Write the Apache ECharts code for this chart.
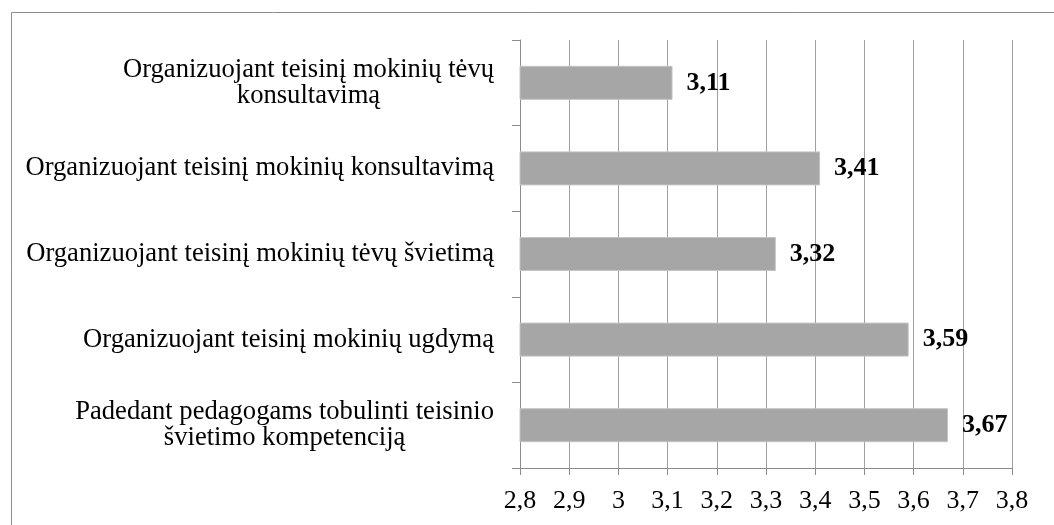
<!DOCTYPE html>
<html>
<head>
<meta charset="utf-8">
<script src="https://cdn.jsdelivr.net/npm/echarts@6/dist/echarts.min.js"></script>
<style>
  html, body { margin: 0; padding: 0; background: #fff; }
  #main { width: 1054px; height: 525px; }
</style>
</head>
<body>
<div id="main"></div>
<script>
// categories top to bottom
const categories = [
  "Organizuojant teisinį mokinių tėvų\nkonsultavimą",
  "Organizuojant teisinį mokinių konsultavimą",
  "Organizuojant teisinį mokinių tėvų švietimą",
  "Organizuojant teisinį mokinių ugdymą",
  "Padedant pedagogams tobulinti teisinio\nšvietimo kompetenciją"
];
const values = [3.11, 3.41, 3.32, 3.59, 3.67];
const axisMin = 2.8;
const axisMax = 3.8;
const axisStep = 0.1;

const font = "'Liberation Serif', 'Times New Roman', serif";
const comma = v => String(Math.round(v * 100) / 100).replace(".", ",");

let myChart = echarts.init(document.getElementById("main"));
let option = {
  animation: false,
  graphic: [
    {
      type: "rect",
      left: 9, top: 10,
      shape: { width: 1080, height: 560 },
      style: { fill: "none", stroke: "#8c8c8c", lineWidth: 1 },
      z: -1
    }
  ],
  grid: { left: 520, right: 42, top: 40, bottom: 57, containLabel: false },
  xAxis: {
    type: "value",
    min: axisMin,
    max: axisMax,
    interval: axisStep,
    axisLine: { show: true, lineStyle: { color: "#8c8c8c", width: 1 } },
    axisTick: { show: true, length: 7, lineStyle: { color: "#8c8c8c" } },
    splitLine: { show: true, lineStyle: { color: "#a0a0a0", width: 1 } },
    axisLabel: {
      margin: 20,
      color: "#000",
      fontFamily: font,
      fontSize: 26,
      formatter: v => comma(v)
    }
  },
  yAxis: {
    type: "category",
    data: categories,
    inverse: true,
    axisLine: { show: true, lineStyle: { color: "#8c8c8c", width: 1 } },
    axisTick: { show: true, length: 8, lineStyle: { color: "#8c8c8c" } },
    axisLabel: {
      margin: 26,
      color: "#000",
      formatter: s => s.split("\n").map(l => "{c|" + l + "}").join("\n"),
      rich: {
        c: { align: "center", fontFamily: font, fontSize: 26.6, lineHeight: 26, color: "#000" }
      }
    }
  },
  series: [
    {
      type: "bar",
      data: values,
      barWidth: 34,
      itemStyle: { color: "#a6a6a6", borderColor: "#c4c4c4", borderWidth: 1 },
      label: {
        show: true,
        position: "right",
        distance: 14,
        color: "#000",
        fontFamily: font,
        fontSize: 26,
        fontWeight: "bold",
        formatter: p => comma(p.value)
      }
    }
  ]
};
myChart.setOption(option);
</script>
</body>
</html>
